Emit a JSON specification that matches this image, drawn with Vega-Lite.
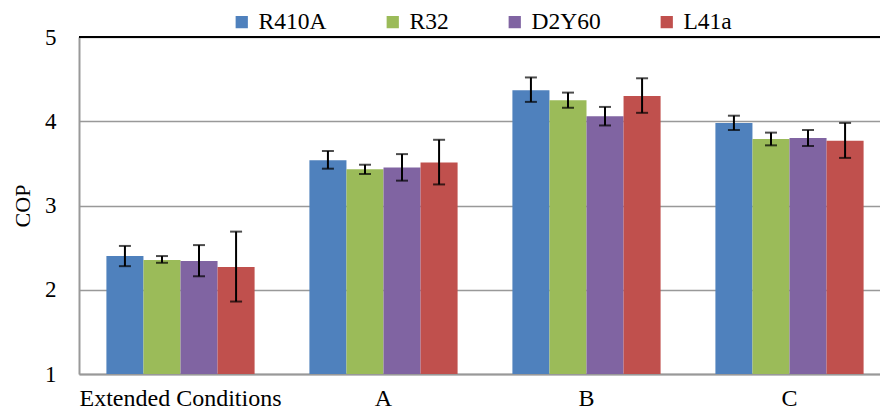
{
  "$schema": "https://vega.github.io/schema/vega-lite/v6.json",
  "width": 812,
  "height": 337,
  "autosize": "none",
  "padding": {"left": 79, "top": 37, "right": 0, "bottom": 38},
  "background": "white",
  "config": {
    "view": {"stroke": null},
    "font": "Liberation Serif",
    "axis": {"labelFont": "Liberation Serif", "titleFont": "Liberation Serif"},
    "legend": {"labelFont": "Liberation Serif", "titleFont": "Liberation Serif"}
  },
  "data": {
    "values": [
      {"group": "Extended Conditions", "ref": "R410A", "cop": 2.40, "lo": 2.28, "hi": 2.52},
      {"group": "Extended Conditions", "ref": "R32", "cop": 2.354, "lo": 2.32, "hi": 2.40},
      {"group": "Extended Conditions", "ref": "D2Y60", "cop": 2.34, "lo": 2.16, "hi": 2.53},
      {"group": "Extended Conditions", "ref": "L41a", "cop": 2.27, "lo": 1.86, "hi": 2.69},
      {"group": "A", "ref": "R410A", "cop": 3.536, "lo": 3.437, "hi": 3.647},
      {"group": "A", "ref": "R32", "cop": 3.43, "lo": 3.374, "hi": 3.484},
      {"group": "A", "ref": "D2Y60", "cop": 3.45, "lo": 3.295, "hi": 3.61},
      {"group": "A", "ref": "L41a", "cop": 3.51, "lo": 3.25, "hi": 3.78},
      {"group": "B", "ref": "R410A", "cop": 4.367, "lo": 4.23, "hi": 4.52},
      {"group": "B", "ref": "R32", "cop": 4.25, "lo": 4.16, "hi": 4.34},
      {"group": "B", "ref": "D2Y60", "cop": 4.06, "lo": 3.95, "hi": 4.17},
      {"group": "B", "ref": "L41a", "cop": 4.30, "lo": 4.10, "hi": 4.51},
      {"group": "C", "ref": "R410A", "cop": 3.98, "lo": 3.896, "hi": 4.066},
      {"group": "C", "ref": "R32", "cop": 3.79, "lo": 3.714, "hi": 3.865},
      {"group": "C", "ref": "D2Y60", "cop": 3.80, "lo": 3.706, "hi": 3.896},
      {"group": "C", "ref": "L41a", "cop": 3.77, "lo": 3.565, "hi": 3.98}
    ]
  },
  "encoding": {
    "x": {
      "field": "group",
      "type": "nominal",
      "sort": ["Extended Conditions", "A", "B", "C"],
      "scale": {"paddingInner": 0.27, "paddingOuter": 0.135},
      "axis": {
        "title": null,
        "labelAngle": 0,
        "labelFontSize": 24,
        "labelLimit": 0,
        "labelColor": "black",
        "labelPadding": 12,
        "ticks": false,
        "domainColor": "#999999",
        "domainWidth": 2
      }
    },
    "xOffset": {
      "field": "ref",
      "type": "nominal",
      "sort": ["R410A", "R32", "D2Y60", "L41a"],
      "scale": {"paddingInner": 0, "paddingOuter": 0}
    }
  },
  "layer": [
    {
      "mark": {"type": "bar"},
      "encoding": {
        "y": {
          "field": "cop",
          "type": "quantitative",
          "scale": {"domain": [1, 5], "nice": false, "zero": false},
          "axis": {
            "title": "COP",
            "titleFontSize": 22,
            "titleFontWeight": "normal",
            "titleColor": "black",
            "titlePadding": 10,
            "values": [1, 2, 3, 4, 5],
            "format": "d",
            "labelFontSize": 23,
            "labelColor": "black",
            "labelPadding": 23,
            "ticks": false,
            "domainColor": "#999999",
            "domainWidth": 2,
            "gridColor": "#999999",
            "gridWidth": 1.5
          }
        },
        "y2": {"datum": 1},
        "color": {
          "field": "ref",
          "type": "nominal",
          "sort": ["R410A", "R32", "D2Y60", "L41a"],
          "scale": {
            "domain": ["R410A", "R32", "D2Y60", "L41a"],
            "range": ["#4F81BD", "#9BBB59", "#8064A2", "#C0504D"]
          },
          "legend": {
            "title": null,
            "orient": "none",
            "legendX": 151,
            "legendY": -27,
            "direction": "horizontal",
            "symbolType": "square",
            "symbolSize": 150,
            "symbolStrokeWidth": 0,
            "labelFontSize": 23.5,
            "labelLimit": 0,
            "labelColor": "black",
            "labelOffset": 5,
            "columnPadding": 54
          }
        }
      }
    },
    {
      "mark": {"type": "rule", "color": "black", "strokeWidth": 2},
      "encoding": {
        "y": {"field": "lo", "type": "quantitative"},
        "y2": {"field": "hi"}
      }
    },
    {
      "mark": {"type": "tick", "color": "black", "size": 12, "thickness": 2},
      "encoding": {"y": {"field": "lo", "type": "quantitative"}}
    },
    {
      "mark": {"type": "tick", "color": "black", "size": 12, "thickness": 2},
      "encoding": {"y": {"field": "hi", "type": "quantitative"}}
    },
    {
      "data": {"values": [{"v": 5}]},
      "mark": {"type": "rule", "color": "black", "strokeWidth": 2},
      "encoding": {"y": {"field": "v", "type": "quantitative"}, "x": {"value": 0}, "x2": {"value": 812}, "xOffset": null}
    }
  ]
}
